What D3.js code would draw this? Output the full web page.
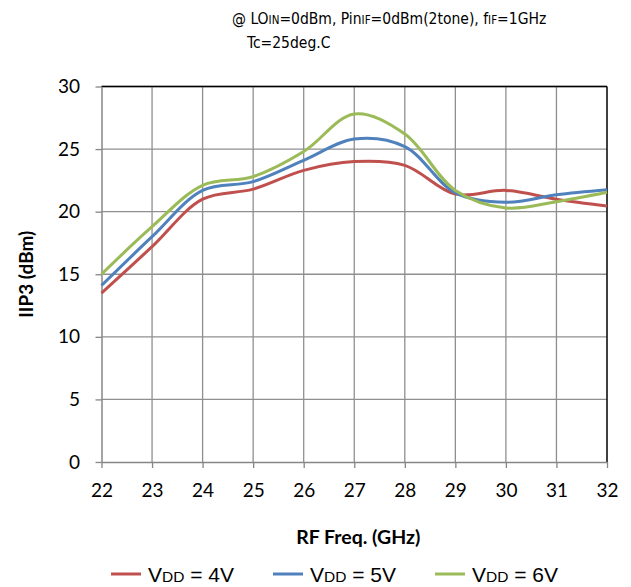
<!DOCTYPE html>
<html>
<head>
<meta charset="utf-8">
<script src="https://cdn.jsdelivr.net/npm/d3@7"></script>
<style>
	body { margin: 0; background: white; }
	#outer { width: 631px; height: 587px; }
</style>
</head>
<body>
<div id="outer"></div>
<script>
////////// Data //////////
const freqs = [22, 23, 24, 25, 26, 27, 28, 29, 30, 31, 32];
const vdd4 = [13.5, 17.2, 21.0, 21.8, 23.3, 24.0, 23.7, 21.4, 21.7, 21.0, 20.45];
const vdd5 = [14.1, 18.0, 21.7, 22.4, 24.1, 25.8, 25.2, 21.5, 20.75, 21.35, 21.75];
const vdd6 = [15.0, 18.8, 22.1, 22.8, 24.8, 27.8, 26.2, 21.7, 20.3, 20.8, 21.55];
const xTicks = [22, 23, 24, 25, 26, 27, 28, 29, 30, 31, 32];
const yTicks = [0, 5, 10, 15, 20, 25, 30];
const seriesNames = [['4V', '#C0504D'], ['5V', '#4F81BD'], ['6V', '#9BBB59']];

function renderChart () {
	const width = 631, height = 587;
	const margin = {top: 86.5, left: 101.5, right: 24, bottom: 125};
	const plotW = width - margin.left - margin.right;
	const plotH = height - margin.top - margin.bottom;

	const svg = d3.select('#outer').append('svg')
		.attr('width', width)
		.attr('height', height);

	const x = d3.scaleLinear().domain([22, 32]).range([0, plotW]);
	const y = d3.scaleLinear().domain([0, 30]).range([plotH, 0]);

	// ********** TITLE ********** //
	const titleFont = '15.5px "DejaVu Sans Condensed", "DejaVu Sans"';
	const title = svg.append('text')
		.attr('x', 232).attr('y', 24)
		.style('font', titleFont)
		.style('font-stretch', 'condensed');
	const titleParts = [['@ LO', 0], ['IN', 1], ['=0dBm, Pin', 0], ['IF', 1], ['=0dBm(2tone), f', 0], ['IF', 1], ['=1GHz', 0]];
	titleParts.forEach(([t, small]) => {
		title.append('tspan').text(t).style('font-size', small ? '11.5px' : null);
	});
	svg.append('text')
		.attr('x', 247).attr('y', 48)
		.style('font', titleFont)
		.style('font-stretch', 'condensed')
		.text('Tc=25deg.C');

	const g = svg.append('g').attr('transform', `translate(${margin.left},${margin.top})`);

	// ********** GRID ********** //
	g.append('g').selectAll('line').data(yTicks.slice(1)).join('line')
		.attr('x1', 0).attr('x2', plotW)
		.attr('y1', d => y(d)).attr('y2', d => y(d))
		.attr('stroke', '#8f8f8f').attr('stroke-width', 1.3);
	g.append('g').selectAll('line').data(xTicks.slice(1)).join('line')
		.attr('y1', 0).attr('y2', plotH)
		.attr('x1', d => x(d)).attr('x2', d => x(d))
		.attr('stroke', '#8f8f8f').attr('stroke-width', 1.3);
	g.append('line').attr('x1', 0).attr('x2', plotW).attr('y1', 0).attr('y2', 0)
		.attr('stroke', '#000').attr('stroke-width', 1.3);
	g.append('line').attr('x1', plotW).attr('x2', plotW).attr('y1', 0).attr('y2', plotH)
		.attr('stroke', '#000').attr('stroke-width', 1.3);

	// ********** AXES ********** //
	const xAxis = g.append('g').attr('transform', `translate(0,${plotH})`)
		.call(d3.axisBottom(x).tickValues(xTicks).tickSize(6).tickPadding(16).tickSizeOuter(0));
	const yAxis = g.append('g')
		.call(d3.axisLeft(y).tickValues(yTicks).tickSize(6).tickPadding(15.5).tickSizeOuter(0));
	[xAxis, yAxis].forEach(ax => {
		ax.select('.domain').attr('stroke', '#868686').attr('stroke-width', 1.5);
		ax.selectAll('.tick line').attr('stroke', '#868686').attr('stroke-width', 1.3);
		ax.selectAll('.tick text').style('font', '19px Lato').attr('fill', '#000');
	});

	svg.append('text')
		.attr('x', margin.left + plotW / 2 + 4).attr('y', 544)
		.attr('text-anchor', 'middle')
		.style('font', 'bold 19.5px Lato')
		.text('RF Freq. (GHz)');
	svg.append('text')
		.attr('transform', `translate(33,${margin.top + plotH / 2}) rotate(-90)`)
		.attr('text-anchor', 'middle')
		.style('font', 'bold 19px Lato')
		.text('IIP3 (dBm)');

	// ********** LINES ********** //
	const line = d3.line()
		.x(d => x(d[0])).y(d => y(d[1]))
		.curve(d3.curveCatmullRom.alpha(0.5));
	[vdd4, vdd5, vdd6].forEach((vals, i) => {
		g.append('path')
			.datum(freqs.map((f, j) => [f, vals[j]]))
			.attr('fill', 'none')
			.attr('stroke', seriesNames[i][1])
			.attr('stroke-width', 3)
			.attr('stroke-linejoin', 'round')
			.attr('d', line);
	});

	// ********** LEGEND ********** //
	const legendX = [111, 273, 435];
	seriesNames.forEach(([v, c], i) => {
		const lg = svg.append('g').attr('transform', `translate(${legendX[i]},574)`);
		lg.append('line').attr('x1', 0).attr('x2', 30).attr('stroke', c).attr('stroke-width', 3);
		const t = lg.append('text').attr('x', 37).attr('y', 7.5)
			.style('font', '21px "Liberation Sans"');
		t.append('tspan').text('V');
		t.append('tspan').text('DD').style('font-size', '15.5px');
		t.append('tspan').text(' = ' + v);
	});
}

renderChart();
</script>
</body>
</html>
